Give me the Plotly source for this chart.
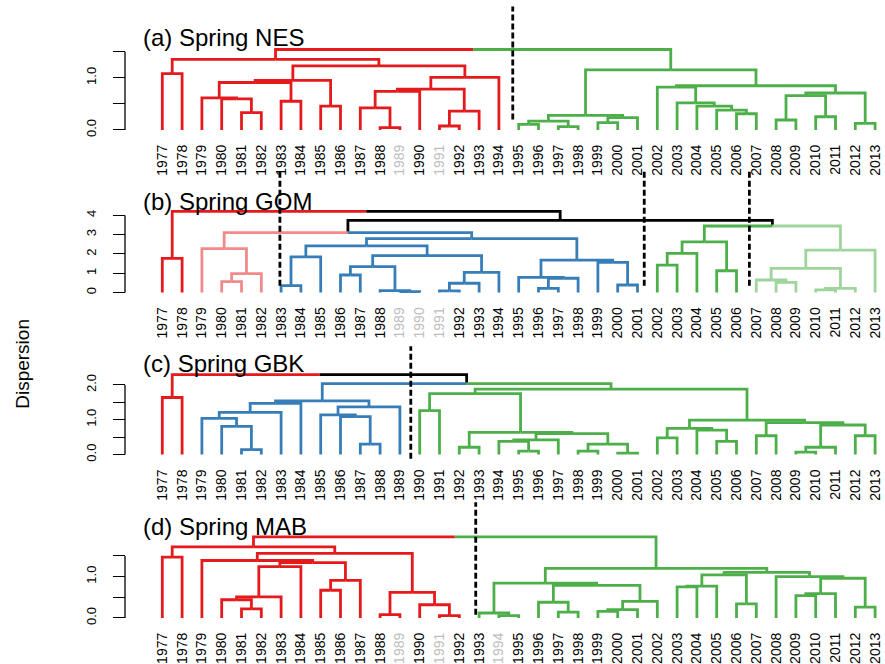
import plotly.graph_objects as go

W, H = 885, 664
YEARS = list(range(1977, 2014))

RED = "#E41A1C"
RED_LIGHT = "#F08A8B"
BLUE = "#377EB8"
GREEN = "#4DAF4A"
GREEN_LIGHT = "#9FD49D"
BLACK = "#000000"

# Agglomerative merges in hclust style: a negative entry is a leaf (year),
# a positive entry refers to an earlier merge step (1-based).

# (a) Spring NES
NES_MERGE = [
    (-1977, -1978), (-1981, -1982), (-1980, 2), (-1979, 3), (-1983, -1984),
    (4, 5), (-1985, -1986), (6, 7), (-1988, -1989), (-1987, 9),
    (10, -1990), (-1991, -1992), (12, -1993), (11, 13), (14, -1994),
    (8, 15), (1, 16), (-1995, -1996), (-1997, -1998), (18, 19),
    (-1999, -2000), (21, -2001), (20, 22), (-2006, -2007), (-2005, 24),
    (-2004, 25), (-2003, 26), (-2002, 27), (-2008, -2009), (-2010, -2011),
    (29, 30), (-2012, -2013), (31, 32), (28, 33), (23, 34), (17, 35),
]
NES_HEIGHT = [1.08, 0.33, 0.595, 0.615, 0.55, 0.91, 0.455, 0.95, 0.045, 0.425,
              0.74, 0.075, 0.36, 0.785, 1.01, 1.23, 1.355, 0.108, 0.063, 0.17,
              0.14, 0.234, 0.278, 0.31, 0.38, 0.456, 0.52, 0.823, 0.19, 0.253,
              0.658, 0.127, 0.709, 0.848, 1.152, 1.544]
NES_GROUPS = [(1977, 1994, RED), (1995, 2013, GREEN)]
NES_BREAKS = [1994.70]
NES_GRAY = [1989, 1991]

# (b) Spring GOM
GOM_MERGE = [
    (-1977, -1978), (-1980, -1981), (2, -1982), (-1979, 3), (-1983, -1984),
    (5, -1985), (-1986, -1987), (-1989, -1990), (-1988, 8), (7, 9),
    (-1991, -1992), (11, -1993), (12, -1994), (10, 13), (6, 14),
    (-1996, -1997), (16, -1998), (-1995, 17), (-2000, -2001), (-1999, 19),
    (18, 20), (15, 21), (4, 22), (-2002, -2003), (24, -2004),
    (-2005, -2006), (25, 26), (-2008, -2009), (-2007, 28), (-2010, -2011),
    (30, -2012), (29, 31), (32, -2013), (27, 33), (23, 34), (1, 35),
]
GOM_HEIGHT = [1.77, 0.57, 0.98, 2.28, 0.36, 1.85, 0.91, 0.05, 0.10, 1.34,
              0.09, 0.48, 1.05, 1.91, 2.42, 0.22, 0.74, 0.79, 0.39, 1.56,
              1.68, 2.80, 3.11, 1.42, 2.03, 1.13, 2.63, 0.53, 0.65, 0.14,
              0.22, 1.25, 2.20, 3.45, 3.74, 4.21]
GOM_GROUPS = [(1977, 1978, RED), (1979, 1982, RED_LIGHT), (1983, 2001, BLUE),
              (2002, 2006, GREEN), (2007, 2013, GREEN_LIGHT)]
GOM_BREAKS = [1982.94, 2001.34, 2006.65]
GOM_GRAY = [1989, 1990, 1991]

# (c) Spring GBK
GBK_MERGE = [
    (-1977, -1978), (-1981, -1982), (-1980, 2), (-1979, 3), (4, -1983),
    (5, -1984), (-1987, -1988), (-1986, 7), (-1985, 8), (9, -1989),
    (6, 10), (-1990, -1991), (-1992, -1993), (-1995, -1996), (-1994, 14),
    (15, -1997), (-1998, -1999), (-2000, -2001), (17, 18), (16, 19),
    (13, 20), (12, 21), (-2002, -2003), (-2005, -2006), (-2004, 24),
    (23, 25), (-2007, -2008), (-2009, -2010), (28, -2011), (-2012, -2013),
    (29, 30), (27, 31), (26, 32), (22, 33), (11, 34), (1, 35),
]
GBK_HEIGHT = [1.64, 0.14, 0.81, 1.04, 1.21, 1.47, 0.30, 1.09, 1.14, 1.37,
              1.54, 1.26, 0.21, 0.10, 0.38, 0.42, 0.10, 0.04, 0.30, 0.60,
              0.64, 1.75, 0.48, 0.38, 0.70, 0.75, 0.54, 0.07, 0.21, 0.54,
              0.85, 0.92, 0.99, 1.88, 2.04, 2.30]
GBK_GROUPS = [(1977, 1978, RED), (1979, 1989, BLUE), (1990, 2013, GREEN)]
GBK_BREAKS = [1989.55]
GBK_GRAY = []

# (d) Spring MAB
MAB_MERGE = [
    (-1977, -1978), (-1981, -1982), (-1980, 2), (3, -1983), (4, -1984),
    (-1985, -1986), (6, -1987), (5, 7), (-1979, 8), (-1988, -1989),
    (-1991, -1992), (-1990, 11), (10, 12), (9, 13), (1, 14),
    (-1994, -1995), (-1993, 16), (-1997, -1998), (-1996, 18), (-1999, -2000),
    (20, -2001), (21, -2002), (19, 22), (17, 23), (-2003, -2004),
    (25, -2005), (-2006, -2007), (26, 27), (-2009, -2010), (29, -2011),
    (-2012, -2013), (30, 31), (-2008, 32), (28, 33), (24, 34), (15, 35),
]
MAB_HEIGHT = [1.47, 0.22, 0.44, 0.51, 1.24, 0.67, 0.91, 1.34, 1.39, 0.08,
              0.056, 0.32, 0.62, 1.56, 1.72, 0.056, 0.12, 0.14, 0.38, 0.16,
              0.20, 0.40, 0.79, 0.84, 0.75, 0.77, 0.34, 1.04, 0.54, 0.59,
              0.26, 0.96, 1.00, 1.10, 1.20, 1.96]
MAB_GROUPS = [(1977, 1992, RED), (1993, 2013, GREEN)]
MAB_BREAKS = [1992.83]
MAB_GRAY = [1989, 1991, 1994]

# y-axis ticks per panel
NES_TICKS, NES_TICKTEXT = [0, 0.5, 1.0, 1.5], ["0.0", "", "1.0", ""]
GOM_TICKS, GOM_TICKTEXT = [0, 1, 2, 3, 4], ["0", "1", "2", "3", "4"]
GBK_TICKS, GBK_TICKTEXT = [0, 0.5, 1.0, 1.5, 2.0], ["0.0", "", "1.0", "", "2.0"]
MAB_TICKS, MAB_TICKTEXT = [0, 0.5, 1.0, 1.5], ["0.0", "", "1.0", ""]

# vertical extent of the dashed break lines (in dispersion units)
NES_DASH = (0.20, 2.37)
GOM_DASH = (0.35, 6.32)
GBK_DASH = (-0.12, 3.11)
MAB_DASH = (0.08, 2.80)

PANELS = [
    dict(title="(a) Spring NES", merge=NES_MERGE, height=NES_HEIGHT, groups=NES_GROUPS,
         breaks=NES_BREAKS, gray=NES_GRAY, ticks=NES_TICKS, ticktext=NES_TICKTEXT, dash=NES_DASH,
         base=130.7, scale=52.4, top=0.0, lo=-0.057, title_y=38.0),
    dict(title="(b) Spring GOM", merge=GOM_MERGE, height=GOM_HEIGHT, groups=GOM_GROUPS,
         breaks=GOM_BREAKS, gray=GOM_GRAY, ticks=GOM_TICKS, ticktext=GOM_TICKTEXT, dash=GOM_DASH,
         base=294.3, scale=19.4, top=168.0, lo=-0.155, title_y=202.5),
    dict(title="(c) Spring GBK", merge=GBK_MERGE, height=GBK_HEIGHT, groups=GBK_GROUPS,
         breaks=GBK_BREAKS, gray=GBK_GRAY, ticks=GBK_TICKS, ticktext=GBK_TICKTEXT, dash=GBK_DASH,
         base=457.3, scale=35.0, top=344.0, lo=-0.15, title_y=365.5),
    dict(title="(d) Spring MAB", merge=MAB_MERGE, height=MAB_HEIGHT, groups=MAB_GROUPS,
         breaks=MAB_BREAKS, gray=MAB_GRAY, ticks=MAB_TICKS, ticktext=MAB_TICKTEXT, dash=MAB_DASH,
         base=621.7, scale=41.6, top=500.0, lo=-0.072, title_y=530.0),
]

FONT = "Liberation Sans, Arial, sans-serif"
LEAF_PX0, LEAF_STEP = 162.3, 19.8        # pixel of first leaf, pixels per year
X_DOMAIN = [0.1, 1.0]
AXIS_X = 125.0 / W                       # paper position of the y-axis spine


def dendro_segments(merge, height, groups):
    """Return {color: (xs, ys)} of the elbow segments of a dendrogram."""
    year_color = {}
    for y0, y1, col in groups:
        for yr in range(y0, y1 + 1):
            year_color[yr] = col
    nodes = {}

    def info(ref):
        if ref < 0:
            return float(-ref), 0.0, {year_color[-ref]}
        return nodes[ref]

    segs = {}
    for k, ((a, b), h) in enumerate(zip(merge, height), start=1):
        ia, ib = info(a), info(b)
        x = (ia[0] + ib[0]) / 2.0
        for cx, ch, cols in (ia, ib):
            col = next(iter(cols)) if len(cols) == 1 else BLACK
            xs, ys = segs.setdefault(col, ([], []))
            xs += [x, cx, cx, None]
            ys += [h, h, ch, None]
        nodes[k] = (x, h, ia[2] | ib[2])
    return segs


fig = go.Figure()
layout_axes = {}
shapes = []
annotations = []

x_lo = YEARS[0] - (LEAF_PX0 - X_DOMAIN[0] * W) / LEAF_STEP
x_hi = x_lo + (X_DOMAIN[1] - X_DOMAIN[0]) * W / LEAF_STEP

for i, p in enumerate(PANELS, start=1):
    xname = "x" if i == 1 else f"x{i}"
    yname = "y" if i == 1 else f"y{i}"
    xkey = "xaxis" if i == 1 else f"xaxis{i}"
    ykey = "yaxis" if i == 1 else f"yaxis{i}"

    hi = (p["base"] - p["top"]) / p["scale"]
    bottom_px = p["base"] - p["lo"] * p["scale"]
    ydom = [1 - bottom_px / H, 1 - p["top"] / H]
    pad_px = bottom_px - p["base"]

    segs = dendro_segments(p["merge"], p["height"], p["groups"])
    order = sorted(segs, key=lambda c: 0 if c == BLACK else 1)
    for col in order:
        xs, ys = segs[col]
        fig.add_trace(go.Scatter(x=xs, y=ys, mode="lines", xaxis=xname, yaxis=yname,
                                 line=dict(color=col, width=2.8), hoverinfo="skip",
                                 showlegend=False))

    for bx in p["breaks"]:
        fig.add_trace(go.Scatter(x=[bx, bx], y=list(p["dash"]), mode="lines",
                                 xaxis=xname, yaxis=yname,
                                 line=dict(color=BLACK, width=2.8, dash="6px,3px"),
                                 hoverinfo="skip", showlegend=False))

    ticktext = [f'<span style="color:#BEBEBE">{yr}</span>' if yr in p["gray"] else str(yr)
                for yr in YEARS]
    layout_axes[xkey] = dict(domain=X_DOMAIN, range=[x_lo, x_hi], anchor=yname,
                             tickmode="array", tickvals=YEARS, ticktext=ticktext,
                             tickangle=-90, ticks="", showgrid=False, zeroline=False,
                             showline=False, tickfont=dict(size=14, color="black"),
                             ticklabelstandoff=round(11 - pad_px))
    layout_axes[ykey] = dict(domain=ydom, range=[p["lo"], hi], anchor="free",
                             position=AXIS_X, tickmode="array", tickvals=p["ticks"],
                             ticktext=p["ticktext"], ticks="outside", ticklen=12,
                             tickwidth=1.3, tickcolor="black", tickangle=-90,
                             tickfont=dict(size=13, color="black"),
                             ticklabelstandoff=12,
                             showgrid=False, zeroline=False, showline=False)
    shapes.append(dict(type="line", xref="paper", yref=yname, x0=AXIS_X, x1=AXIS_X,
                       y0=p["ticks"][0], y1=p["ticks"][-1],
                       line=dict(color="black", width=1.3)))
    annotations.append(dict(text=p["title"], xref="paper", yref="paper",
                            x=141.0 / W, y=1 - p["title_y"] / H, xanchor="left",
                            yanchor="middle", showarrow=False,
                            font=dict(size=24, color="black")))

annotations.append(dict(text="Dispersion", xref="paper", yref="paper", x=23.0 / W,
                        y=1 - 366.0 / H, xanchor="center", yanchor="middle",
                        textangle=-90, showarrow=False,
                        font=dict(size=19, color="black")))

fig.update_layout(width=W, height=H, margin=dict(l=0, r=0, t=0, b=0),
                  paper_bgcolor="white", plot_bgcolor="white",
                  font=dict(family=FONT, color="black"),
                  shapes=shapes, annotations=annotations, **layout_axes)

fig.write_html("out.html")
